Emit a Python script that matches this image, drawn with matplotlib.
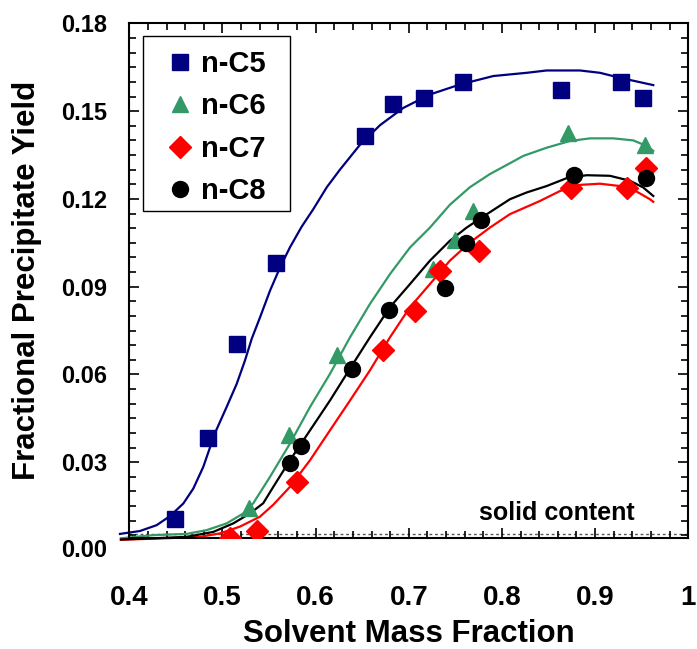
import numpy as np
import matplotlib
matplotlib.use("Agg")
import matplotlib.pyplot as plt
from matplotlib.ticker import MultipleLocator
from matplotlib.transforms import offset_copy
from matplotlib.patches import Rectangle

plt.rcParams["font.family"] = ["Liberation Sans", "DejaVu Sans"]
plt.rcParams["font.weight"] = "bold"

# ──────────────────────────────
# Measured points
# ──────────────────────────────
c5_x = [0.449, 0.485, 0.516, 0.558, 0.653, 0.683, 0.716, 0.758, 0.863, 0.928, 0.951]
c5_y = [0.0105, 0.0383, 0.0705, 0.0980, 0.1415, 0.1523, 0.1546, 0.1599, 0.1572, 0.1599, 0.1546]

c6_x = [0.529, 0.571, 0.623, 0.726, 0.750, 0.769, 0.871, 0.954]
c6_y = [0.0144, 0.0394, 0.0667, 0.0960, 0.1059, 0.1159, 0.1424, 0.1384]

c7_x = [0.508, 0.537, 0.580, 0.672, 0.707, 0.734, 0.775, 0.874, 0.934, 0.955]
c7_y = [0.0040, 0.0065, 0.0231, 0.0682, 0.0818, 0.0952, 0.1023, 0.1237, 0.1239, 0.1305]

c8_x = [0.573, 0.584, 0.639, 0.679, 0.739, 0.761, 0.778, 0.877, 0.955]
c8_y = [0.0299, 0.0355, 0.0620, 0.0821, 0.0894, 0.1051, 0.1127, 0.1282, 0.1271]

# ──────────────────────────────
# Model curves
# ──────────────────────────────
c5_fit_x = [0.390, 0.4115, 0.4294, 0.4437, 0.458, 0.4687, 0.4794, 0.492, 0.5045, 0.5153,
            0.5242, 0.5314, 0.5403, 0.551, 0.5617, 0.5725, 0.585, 0.5975, 0.612, 0.6261,
            0.6476, 0.6691, 0.6941, 0.7227, 0.7549, 0.7907, 0.8265, 0.848, 0.8837, 0.9052,
            0.9266, 0.9624]
c5_fit_y = [0.0055, 0.0065, 0.0085, 0.0116, 0.0159, 0.0210, 0.0284, 0.0400, 0.0489, 0.0568,
            0.0648, 0.0722, 0.0795, 0.0886, 0.0965, 0.1035, 0.1105, 0.1165, 0.1240, 0.1300,
            0.1385, 0.1452, 0.1511, 0.1557, 0.1591, 0.1620, 0.1631, 0.1639, 0.1639, 0.1631,
            0.1614, 0.1589]

c6_fit_x = [0.391, 0.4258, 0.4616, 0.4831, 0.5045, 0.5224, 0.5331, 0.551, 0.5725, 0.594,
            0.6154, 0.6369, 0.6583, 0.6798, 0.7013, 0.7227, 0.7441, 0.7656, 0.7871, 0.8086,
            0.8229, 0.848, 0.873, 0.8945, 0.9195, 0.9409, 0.9553, 0.9624]
c6_fit_y = [0.0040, 0.0051, 0.0055, 0.0068, 0.0091, 0.0125, 0.0160, 0.0250, 0.0364, 0.0489,
            0.0602, 0.0727, 0.0841, 0.0943, 0.1034, 0.1102, 0.1180, 0.1240, 0.1285, 0.1322,
            0.1347, 0.1375, 0.1398, 0.1407, 0.1407, 0.1400, 0.1381, 0.1364]

c7_fit_x = [0.391, 0.4365, 0.4759, 0.4974, 0.5188, 0.5403, 0.5546, 0.5725, 0.594, 0.6154,
            0.6369, 0.6583, 0.6798, 0.7013, 0.7227, 0.7441, 0.7656, 0.7871, 0.8086, 0.8408,
            0.8623, 0.8837, 0.9052, 0.9266, 0.9446, 0.9588, 0.9624]
c7_fit_y = [0.0035, 0.0040, 0.0045, 0.0057, 0.0080, 0.0114, 0.0155, 0.0216, 0.0307, 0.0409,
            0.0511, 0.0614, 0.0727, 0.0830, 0.0909, 0.0989, 0.1051, 0.1102, 0.1148, 0.1193,
            0.1227, 0.1248, 0.1252, 0.1244, 0.1225, 0.1199, 0.1190]

c8_fit_x = [0.391, 0.4258, 0.4616, 0.4902, 0.5116, 0.5295, 0.5438, 0.5546, 0.5725, 0.594,
            0.6154, 0.6369, 0.6583, 0.6798, 0.7013, 0.7227, 0.7441, 0.7621, 0.780, 0.8086,
            0.8265, 0.848, 0.8695, 0.8909, 0.9159, 0.9374, 0.9517, 0.9624]
c8_fit_y = [0.0036, 0.0040, 0.0045, 0.0062, 0.0091, 0.0125, 0.0160, 0.0216, 0.0307, 0.0409,
            0.0511, 0.0620, 0.0727, 0.0830, 0.0909, 0.0989, 0.1057, 0.1102, 0.1140, 0.1199,
            0.1222, 0.1244, 0.1271, 0.1281, 0.1279, 0.1262, 0.1239, 0.1210]

solid_content = 0.0055

x_ticks = [0.4, 0.5, 0.6, 0.7, 0.8, 0.9, 1.0]
x_tick_labels = ["0.4", "0.5", "0.6", "0.7", "0.8", "0.9", "1"]
y_ticks = [0.03, 0.06, 0.09, 0.12, 0.15, 0.18]
y_tick_labels = ["0.03", "0.06", "0.09", "0.12", "0.15", "0.18"]

NAVY = "#000080"
GREEN = "#339966"
RED = "#ff0000"
BLACK = "#000000"

fig = plt.figure(figsize=(6.97, 6.49), dpi=100)
ax = fig.add_axes([0.1855, 0.171, 0.802, 0.793])

# curves
ax.plot(c5_fit_x, c5_fit_y, color=NAVY, lw=1.6, clip_on=False, zorder=2)
ax.plot(c6_fit_x, c6_fit_y, color=GREEN, lw=1.6, clip_on=False, zorder=2)
ax.plot(c7_fit_x, c7_fit_y, color=RED, lw=1.6, clip_on=False, zorder=2)
ax.plot(c8_fit_x, c8_fit_y, color=BLACK, lw=1.6, clip_on=False, zorder=2)

# points
ax.plot(c5_x, c5_y, ls="none", marker="s", ms=12, color=NAVY, label="n-C5", zorder=3)
ax.plot(c6_x, c6_y, ls="none", marker="^", ms=12, color=GREEN, label="n-C6", zorder=3)
ax.plot(c7_x, c7_y, ls="none", marker="D", ms=11, color=RED, label="n-C7", zorder=3)
ax.plot(c8_x, c8_y, ls="none", marker="o", ms=11.5, color=BLACK, label="n-C8", zorder=3)

ax.axhline(solid_content, color="#555555", lw=1, ls=(0, (2, 2)), zorder=1)
ax.text(0.859, 0.0126, "solid content", fontsize=18, fontweight="bold",
        ha="center", va="center")

ax.set_xlim(0.4, 1.0)
ax.set_ylim(0.0041, 0.18)

ax.set_xticks(x_ticks)
ax.set_xticklabels(x_tick_labels)
ax.set_yticks(y_ticks)
ax.set_yticklabels(y_tick_labels)
ax.xaxis.set_minor_locator(MultipleLocator(0.02))
ax.yaxis.set_minor_locator(MultipleLocator(0.005))

ax.tick_params(which="both", direction="in", top=True, right=True, width=1.2)
ax.tick_params(which="major", length=7)
ax.tick_params(which="minor", length=5)
ax.tick_params(axis="x", which="major", labelsize=20, pad=34)
ax.tick_params(axis="y", which="major", labelsize=17, pad=16)

for s in ax.spines.values():
    s.set_linewidth(1.5)

# the zero label sits just below the visible range
lbl_trans = offset_copy(ax.get_yaxis_transform(), fig=fig, x=-16, units="points")
ax.text(0, 0.0, "0.00", transform=lbl_trans, fontsize=17, fontweight="bold",
        ha="right", va="center", clip_on=False)

ax.set_xlabel("Solvent Mass Fraction", fontsize=22.5, fontweight="bold")
ax.xaxis.set_label_coords(0.5, -0.203)
ax.xaxis.label.set_va("baseline")
ax.set_ylabel("Fractional Precipitate Yield", fontsize=22.5, fontweight="bold", labelpad=14)

# legend: frame drawn separately so its box can be wider than the text
ax.add_patch(Rectangle((0.0245, 0.6353), 0.263, 0.34, transform=ax.transAxes,
                       facecolor="white", edgecolor="black", lw=1.0, zorder=4))
leg = ax.legend(loc="upper left", bbox_to_anchor=(0.064, 0.948), fontsize=21,
                frameon=False, numpoints=1, handlelength=1.0, handletextpad=0.22,
                labelspacing=0.49, borderpad=0, borderaxespad=0)
leg.set_zorder(5)

fig.savefig("out.png", dpi=100)
